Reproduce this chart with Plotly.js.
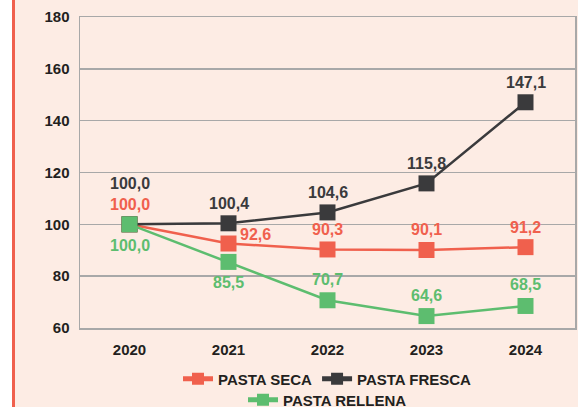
<!DOCTYPE html>
<html><head><meta charset="utf-8">
<script src="https://cdn.plot.ly/plotly-3.0.1.min.js"></script>
<style>
html,body{margin:0;padding:0;background:#ffffff;}
#wrap{position:absolute;left:12px;top:0;width:566px;height:407px;border-left:3px solid #f0604d;background:#fdece4;}
#chart{position:absolute;left:0;top:0;width:563px;height:407px;}
</style></head>
<body><div id="wrap"><div id="chart"></div></div>
<script>
const years = ['2020','2021','2022','2023','2024'];
const pastaSeca = [100.0, 92.6, 90.3, 90.1, 91.2];
const pastaFresca = [100.0, 100.4, 104.6, 115.8, 147.1];
const pastaRellena = [100.0, 85.5, 70.7, 64.6, 68.5];
const seriesNames = ['PASTA SECA','PASTA FRESCA','PASTA RELLENA'];
const yTicks = [60, 80, 100, 120, 140, 160, 180];

const colors = ['#f0604d', '#3a3a3c', '#5dbd6f'];
const FONT = 'Liberation Sans, Arial, sans-serif';
const fmt = v => v.toFixed(1).replace('.', ',');

const seriesData = [pastaSeca, pastaFresca, pastaRellena];
const traces = seriesData.map((vals, i) => ({
  x: years, y: vals, name: seriesNames[i], type: 'scatter', mode: 'lines+markers',
  line: {color: colors[i], width: 2.5},
  marker: {symbol: 'square', size: 16, color: colors[i]},
  legend: i === 2 ? 'legend2' : 'legend',
  cliponaxis: false
}));

function shiftFor(s, j) {
  if (s === 0) { // seca
    if (j === 1) return {xs: 27, ys: 9};
    return {xs: 0, ys: 20};
  }
  if (s === 1) { // fresca
    if (j === 0) return {xs: 0, ys: 41};
    return {xs: 0, ys: 20};
  }
  if (j <= 1) return {xs: 0, ys: -21};
  return {xs: 0, ys: 21};
}

const annotations = [];
seriesData.forEach((vals, s) => {
  vals.forEach((v, j) => {
    const sh = shiftFor(s, j);
    annotations.push({
      x: j, y: v, xref: 'x', yref: 'y', text: fmt(v), showarrow: false,
      xshift: sh.xs, yshift: sh.ys, xanchor: 'center', yanchor: 'middle',
      font: {family: FONT, size: 16, color: colors[s], weight: 'bold'}
    });
  });
});

const legendFont = {family: FONT, size: 15, color: '#231f20', weight: 'bold'};
const layout = {
  width: 563, height: 407,
  margin: {l: 65, r: 3, t: 17, b: 79, autoexpand: false},
  paper_bgcolor: '#fdece4', plot_bgcolor: '#fdece4',
  font: {family: FONT, size: 15, color: '#231f20', weight: 'bold'},
  xaxis: {
    type: 'category', range: [-0.5, 4.5], showgrid: false,
    showline: true, mirror: true, linecolor: '#a8a8a8', linewidth: 1.5,
    ticks: '', ticklabelstandoff: 7,
    tickfont: {family: FONT, size: 15, color: '#231f20', weight: 'bold'}, fixedrange: true
  },
  yaxis: {
    range: [60, 180], tickvals: yTicks, ticktext: yTicks.map(String),
    showgrid: true, gridcolor: '#a8a8a8', gridwidth: 1.5,
    showline: true, mirror: true, linecolor: '#a8a8a8', linewidth: 1.5,
    zeroline: false, ticks: '', ticklabelstandoff: 6,
    tickfont: {family: FONT, size: 15, color: '#231f20', weight: 'bold'}, fixedrange: true
  },
  showlegend: true,
  legend: {
    orientation: 'h', xref: 'paper', x: 0.5, xanchor: 'center',
    yref: 'container', y: 0.069, yanchor: 'middle',
    bgcolor: 'rgba(0,0,0,0)', font: legendFont, itemwidth: 30, itemsizing: 'constant'
  },
  legend2: {
    orientation: 'h', xref: 'paper', x: 0.5, xanchor: 'center',
    yref: 'container', y: 0.017, yanchor: 'middle',
    bgcolor: 'rgba(0,0,0,0)', font: legendFont, itemwidth: 30, itemsizing: 'constant'
  },
  annotations: annotations
};

Plotly.newPlot('chart', traces, layout, {displayModeBar: false, staticPlot: true});
</script></body></html>
